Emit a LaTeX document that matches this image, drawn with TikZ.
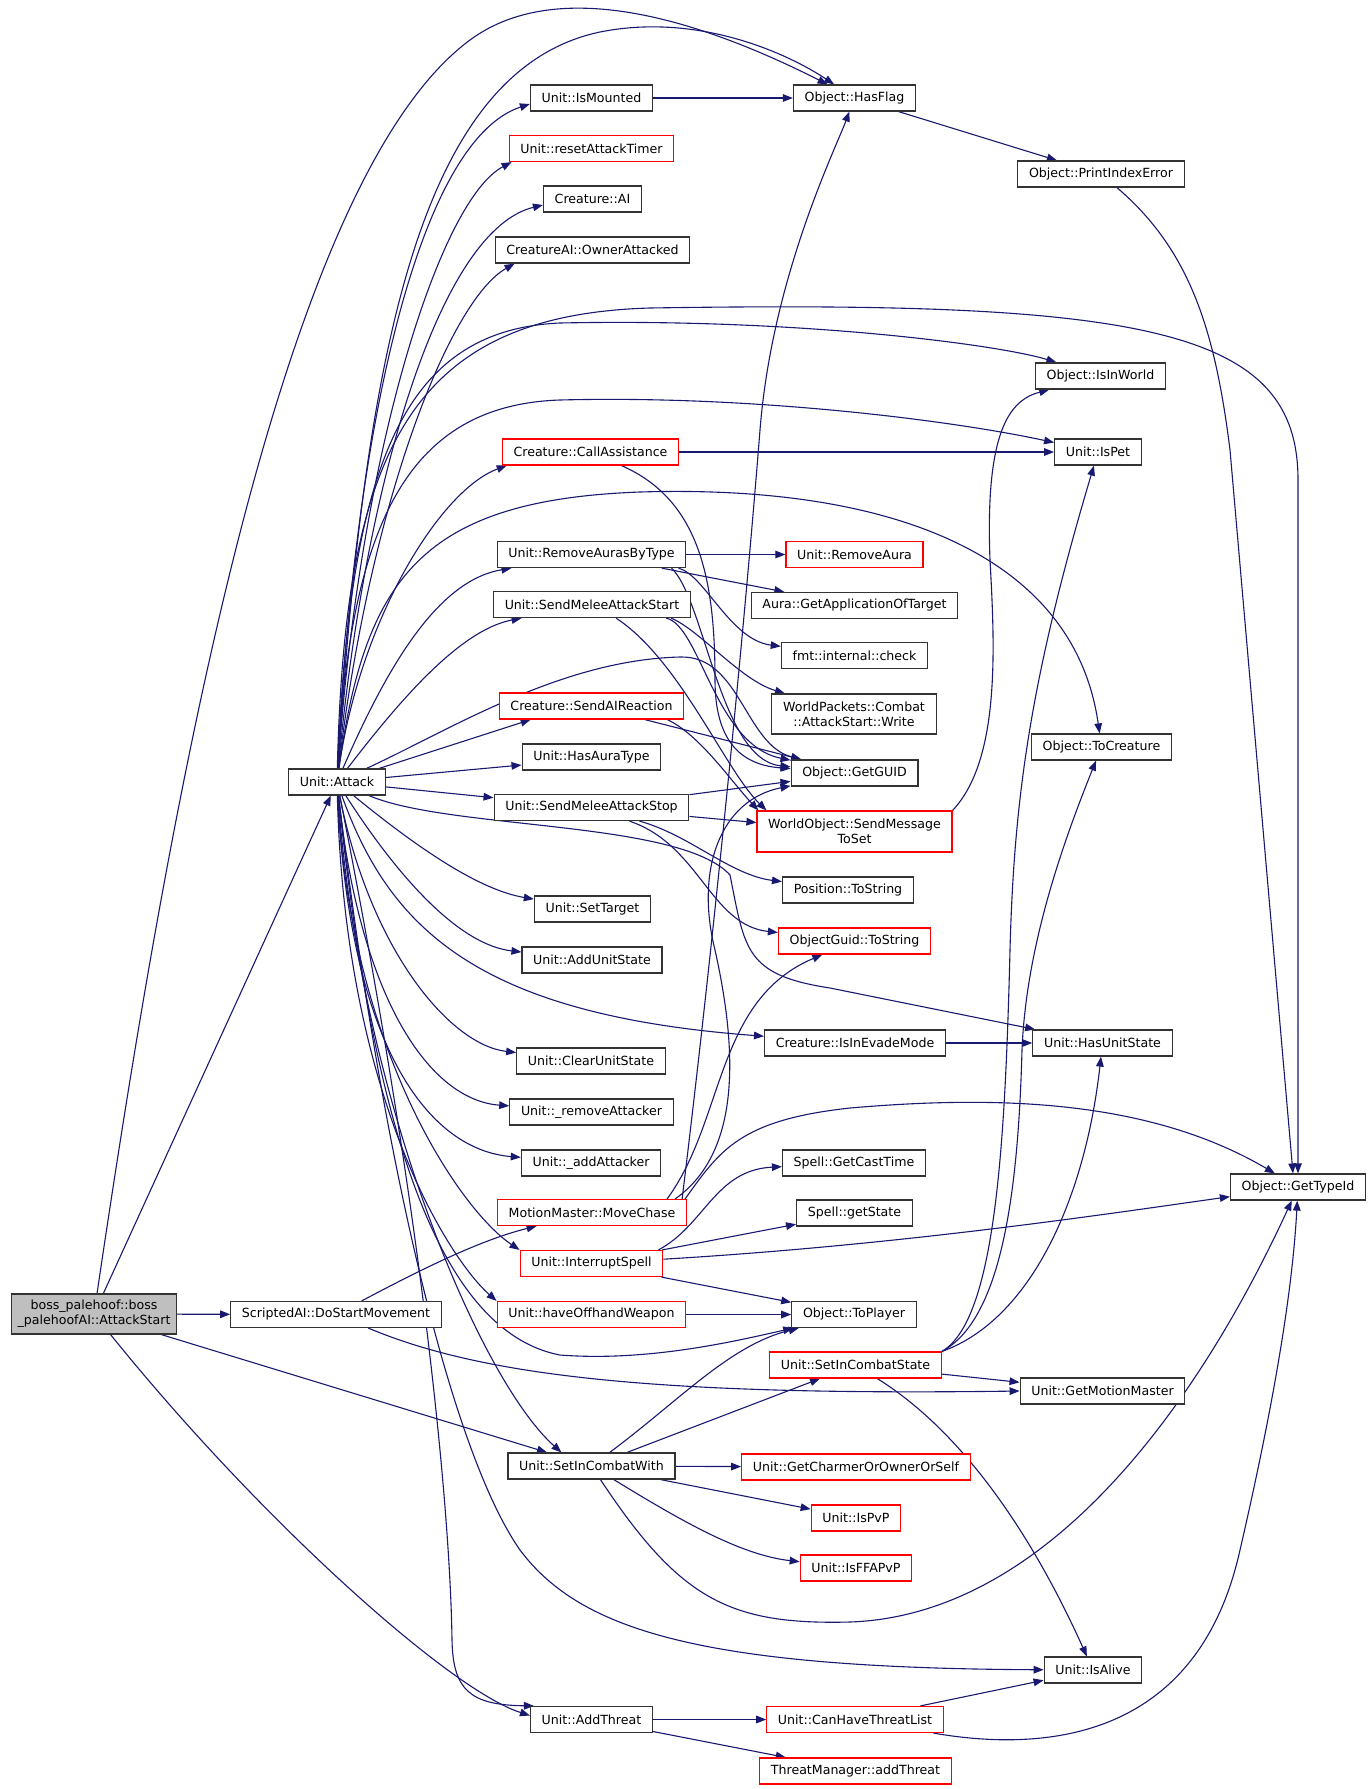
\documentclass[tikz,border=0pt]{standalone}
\usepackage{fontspec}
\setmainfont{DejaVu Sans}
\usetikzlibrary{arrows.meta,calc,backgrounds}
\definecolor{edgeblue}{HTML}{191970}
\definecolor{bossgray}{HTML}{BFBFBF}

\begin{document}
\begin{tikzpicture}[x=0.5pt,y=-0.5pt,
    fn/.style={draw=black!80,line width=0.6pt,fill=white,inner xsep=5.6pt,inner ysep=0pt,
      minimum height=13pt,font=\fontsize{6.3}{7.5}\selectfont,align=center},
    fnred/.style={fn,draw=red},
    call/.style={draw=edgeblue,line width=0.55pt,-{Triangle[length=5pt,width=3.8pt]}}]
    \useasboundingbox (0,0) rectangle (1371,1789);

    \node[fn,fill=bossgray,minimum height=20pt,inner xsep=3pt] (boss) at (94,1314) {boss\_palehoof::boss\\\_palehoofAI::AttackStart};
    \node[fn] (DoStartMovement) at (336,1314.5) {ScriptedAI::DoStartMovement};
    \node[fn] (Attack) at (337,782) {Unit::Attack};

    \node[fn] (IsMounted) at (591.5,98) {Unit::IsMounted};
    \node[fnred] (resetAttackTimer) at (591.5,148.5) {Unit::resetAttackTimer};
    \node[fn] (CreatureAI) at (592.5,199) {Creature::AI};
    \node[fn] (OwnerAttacked) at (592.5,250) {CreatureAI::OwnerAttacked};
    \node[fnred] (CallAssistance) at (590.5,452) {Creature::CallAssistance};
    \node[fn] (RemoveAurasByType) at (591.5,554.5) {Unit::RemoveAurasByType};
    \node[fn] (SendMeleeAttackStart) at (592,604.5) {Unit::SendMeleeAttackStart};
    \node[fnred] (SendAIReaction) at (591.5,706) {Creature::SendAIReaction};
    \node[fn] (HasAuraType) at (591.5,757) {Unit::HasAuraType};
    \node[fn] (SendMeleeAttackStop) at (591.5,807.5) {Unit::SendMeleeAttackStop};
    \node[fn] (SetTarget) at (592.5,909) {Unit::SetTarget};
    \node[fn] (AddUnitState) at (592,960) {Unit::AddUnitState};
    \node[fn] (ClearUnitState) at (591,1061) {Unit::ClearUnitState};
    \node[fn] (removeAttacker) at (591.5,1112) {Unit::\_removeAttacker};
    \node[fn] (addAttacker) at (591,1163) {Unit::\_addAttacker};
    \node[fnred] (MoveChase) at (592,1212.5) {MotionMaster::MoveChase};
    \node[fnred] (InterruptSpell) at (591.5,1263.5) {Unit::InterruptSpell};
    \node[fnred] (haveOffhandWeapon) at (591.5,1314.5) {Unit::haveOffhandWeapon};
    \node[fn] (SetInCombatWith) at (591.5,1466) {Unit::SetInCombatWith};
    \node[fn] (AddThreat) at (591.5,1719.5) {Unit::AddThreat};

    \node[fn] (HasFlag) at (854.5,98) {Object::HasFlag};
    \node[fnred] (RemoveAura) at (854.5,554.5) {Unit::RemoveAura};
    \node[fn] (GetApplicationOfTarget) at (854.5,605.5) {Aura::GetApplicationOfTarget};
    \node[fn] (fmtcheck) at (854.5,655.5) {fmt::internal::check};
    \node[fn,minimum height=20pt] (AttackStartWrite) at (854,714) {WorldPackets::Combat\\::AttackStart::Write};
    \node[fn] (GetGUID) at (854.5,773) {Object::GetGUID};
    \node[fnred,minimum height=20.5pt] (SendMessageToSet) at (854.5,831.5) {WorldObject::SendMessage\\ToSet};
    \node[fn] (PositionToString) at (848,890) {Position::ToString};
    \node[fnred] (ObjectGuidToString) at (854.5,941) {ObjectGuid::ToString};
    \node[fn] (IsInEvadeMode) at (855,1043) {Creature::IsInEvadeMode};
    \node[fn] (GetCastTime) at (854,1163) {Spell::GetCastTime};
    \node[fn] (getState) at (854.5,1213) {Spell::getState};
    \node[fn] (ToPlayer) at (854,1314.5) {Object::ToPlayer};
    \node[fnred] (SetInCombatState) at (855.5,1365) {Unit::SetInCombatState};
    \node[fnred] (GetCharmer) at (856,1467) {Unit::GetCharmerOrOwnerOrSelf};
    \node[fnred] (IsPvP) at (856,1518) {Unit::IsPvP};
    \node[fnred] (IsFFAPvP) at (856,1568) {Unit::IsFFAPvP};
    \node[fnred] (CanHaveThreatList) at (855,1719.5) {Unit::CanHaveThreatList};
    \node[fnred] (TMaddThreat) at (855.5,1771) {ThreatManager::addThreat};

    \node[fn] (PrintIndexError) at (1101,174) {Object::PrintIndexError};
    \node[fn] (IsInWorld) at (1100.5,376) {Object::IsInWorld};
    \node[fn] (IsPet) at (1098,452) {Unit::IsPet};
    \node[fn] (ToCreature) at (1101.5,747) {Object::ToCreature};
    \node[fn] (HasUnitState) at (1102.5,1043) {Unit::HasUnitState};
    \node[fn] (GetMotionMaster) at (1102.5,1391) {Unit::GetMotionMaster};
    \node[fn] (IsAlive) at (1093,1670) {Unit::IsAlive};
    \node[fn] (GetTypeId) at (1298,1187) {Object::GetTypeId};

    \begin{scope}[on background layer]
    \fill[white] (0,0) rectangle (1371,1789);

    \draw[call] (boss) .. controls (170,800) and (280,180) .. (470,40) .. controls (565,-30) and (720,30) .. (HasFlag);
    \draw[call] (boss) -- (Attack);
    \draw[call] (boss) -- (DoStartMovement);
    \draw[call] (boss) -- (SetInCombatWith);
    \draw[call] (boss) .. controls (260,1520) and (450,1690) .. ($(AddThreat.west)+(0,-4)$);

    % Unit::Attack, upper half
    \draw[call] (Attack) .. controls (365,350) and (420,70) .. (600,32) .. controls (700,12) and (790,55) .. (HasFlag);
    \draw[call] (Attack) .. controls (355,420) and (420,140) .. ($(IsMounted.west)+(0,6)$);
    \draw[call] (Attack) .. controls (360,450) and (440,200) .. ($(resetAttackTimer.south west)+(3,0)$);
    \draw[call] (Attack) .. controls (365,480) and (440,230) .. ($(CreatureAI.west)+(0,6)$);
    \draw[call] (Attack) .. controls (370,500) and (450,300) .. ($(OwnerAttacked.south west)+(20,0)$);
    \draw[call] (Attack) .. controls (345,450) and (410,315) .. (650,308) .. controls (1150,300) and (1298,330) .. (1298,480) -- (GetTypeId);
    \draw[call] (Attack) .. controls (350,470) and (400,330) .. (560,323) .. controls (800,318) and (1000,345) .. (IsInWorld);
    \draw[call] (Attack) .. controls (350,520) and (410,405) .. (560,400) .. controls (750,395) and (950,420) .. (IsPet);
    \draw[call] (Attack) .. controls (360,620) and (440,490) .. ($(CallAssistance.south west)+(5,0)$);
    \draw[call] (Attack) .. controls (365,580) and (420,500) .. (640,492) .. controls (900,484) and (1075,560) .. (ToCreature);
    \draw[call] (Attack) .. controls (390,660) and (440,580) .. ($(RemoveAurasByType.south west)+(15,0)$);
    \draw[call] (Attack) .. controls (400,700) and (460,630) .. (SendMeleeAttackStart);
    \draw[call] (Attack) .. controls (450,730) and (560,660) .. (680,657) .. controls (740,655) and (745,745) .. (GetGUID);
    \draw[call] (Attack) -- ($(SendAIReaction.south west)+(32,0)$);
    \draw[call] (Attack) -- ($(HasAuraType.west)+(0,8)$);
    \draw[call] (Attack) -- (SendMeleeAttackStop);

    % Unit::Attack, lower half
    \draw[call] (Attack) .. controls (450,830) and (680,820) .. (730,875) .. controls (745,950) and (745,975) .. (830,988) -- (HasUnitState);
    \draw[call] (Attack) .. controls (420,850) and (480,890) .. (SetTarget);
    \draw[call] (Attack) .. controls (400,880) and (460,945) .. (AddUnitState);
    \draw[call] (Attack) .. controls (390,930) and (480,1015) .. (IsInEvadeMode);
    \draw[call] (Attack) .. controls (370,950) and (450,1045) .. (ClearUnitState);
    \draw[call] (Attack) .. controls (360,1000) and (430,1100) .. (removeAttacker);
    \draw[call] (Attack) .. controls (350,1050) and (430,1150) .. (addAttacker);
    \draw[call] (Attack) .. controls (350,1050) and (460,1210) .. (InterruptSpell.north west);
    \draw[call] (Attack) .. controls (345,1100) and (450,1260) .. (haveOffhandWeapon.north west);
    \draw[call] (Attack) .. controls (370,1100) and (430,1330) .. (560,1355) .. controls (650,1362) and (740,1340) .. (ToPlayer);
    \draw[call] (Attack) .. controls (360,1100) and (480,1380) .. ($(SetInCombatWith.north west)+(54,0)$);
    \draw[call] (Attack) .. controls (420,1200) and (450,1500) .. (452,1640) .. controls (453,1690) and (470,1705) .. ($(AddThreat.north west)+(4,0)$);
    \draw[call] (Attack) .. controls (380,1150) and (450,1450) .. (520,1550) .. controls (580,1630) and (700,1668) .. (IsAlive);

    \draw[call] (DoStartMovement) .. controls (420,1270) and (480,1240) .. (MoveChase);
    \draw[call] (DoStartMovement) .. controls (480,1375) and (650,1396) .. (GetMotionMaster.west);

    \draw[call] (IsMounted) -- (HasFlag);
    \draw[call] (HasFlag) -- (PrintIndexError);
    \draw[call] (PrintIndexError) .. controls (1190,250) and (1215,330) .. (1230,450) -- ($(GetTypeId.north)+(-5,0)$);

    \draw[call] (CallAssistance) -- (IsPet);
    \draw[call] (CallAssistance) .. controls (700,500) and (715,580) .. (715,680) .. controls (715,740) and (740,765) .. (GetGUID);

    \draw[call] (RemoveAurasByType) -- (RemoveAura);
    \draw[call] (RemoveAurasByType) -- (GetApplicationOfTarget);
    \draw[call] ($(RemoveAurasByType.south east)+(-8,0)$) .. controls (705,575) and (730,640) .. (fmtcheck);
    \draw[call] ($(RemoveAurasByType.south east)+(-15,0)$) .. controls (705,600) and (720,760) .. (GetGUID);

    \draw[call] ($(SendMeleeAttackStart.south east)+(-20,0)$) .. controls (700,630) and (740,680) .. (AttackStartWrite);
    \draw[call] ($(SendMeleeAttackStart.south east)+(-25,0)$) .. controls (700,625) and (715,745) .. (GetGUID);
    \draw[call] ($(SendMeleeAttackStart.south east)+(-75,0)$) .. controls (680,660) and (725,770) .. ($(SendMessageToSet.north west)+(10,0)$);

    \draw[call] (SendAIReaction) -- (GetGUID);
    \draw[call] ($(SendAIReaction.south east)+(-17,0)$) .. controls (700,735) and (730,780) .. ($(SendMessageToSet.north west)+(2,0)$);

    \draw[call] (SendMeleeAttackStop) -- (GetGUID);
    \draw[call] (SendMeleeAttackStop) -- (SendMessageToSet);
    \draw[call] ($(SendMeleeAttackStop.south east)+(-50,0)$) .. controls (690,835) and (730,875) .. (PositionToString);
    \draw[call] ($(SendMeleeAttackStop.south east)+(-60,0)$) .. controls (700,845) and (710,925) .. (ObjectGuidToString);

    \draw[call] (SendMessageToSet.north east) .. controls (1000,760) and (995,650) .. (990,560) .. controls (985,430) and (1010,400) .. (IsInWorld);
    \draw[call] (IsInEvadeMode) -- (HasUnitState);

    \draw[call] ($(MoveChase.north east)+(-5,0)$) .. controls (715,930) and (745,620) .. (760,430) .. controls (772,278) and (835,150) .. (HasFlag);
    \draw[call] ($(MoveChase.north east)+(-12,0)$) .. controls (745,1150) and (735,1040) .. (715,950) .. controls (695,870) and (720,800) .. (GetGUID);
    \draw[call] ($(MoveChase.north east)+(-20,0)$) .. controls (725,1120) and (715,1000) .. (ObjectGuidToString);
    \draw[call] ($(MoveChase.north east)+(-2,0)$) .. controls (720,1150) and (740,1120) .. (850,1108) .. controls (1000,1095) and (1150,1100) .. (GetTypeId);

    \draw[call] ($(InterruptSpell.north east)+(-5,0)$) .. controls (705,1225) and (715,1170) .. (GetCastTime);
    \draw[call] (InterruptSpell) -- (getState);
    \draw[call] (InterruptSpell) .. controls (900,1245) and (1100,1215) .. (GetTypeId);
    \draw[call] (InterruptSpell) -- (ToPlayer);
    \draw[call] (haveOffhandWeapon) -- (ToPlayer);

    \draw[call] (SetInCombatWith) .. controls (680,1400) and (730,1345) .. (ToPlayer);
    \draw[call] (SetInCombatWith) -- (SetInCombatState);
    \draw[call] (SetInCombatWith) -- (GetCharmer);
    \draw[call] (SetInCombatWith) -- (IsPvP);
    \draw[call] (SetInCombatWith) .. controls (680,1520) and (740,1555) .. (IsFFAPvP);
    \draw[call] (SetInCombatWith) .. controls (680,1600) and (730,1625) .. (850,1622) .. controls (1050,1615) and (1200,1400) .. (GetTypeId);

    \draw[call] (SetInCombatState.north east) .. controls (995,1320) and (1005,1150) .. (1010,950) .. controls (1014,800) and (1030,680) .. (IsPet);
    \draw[call] (SetInCombatState.north east) .. controls (1000,1320) and (1018,1200) .. (1022,1050) .. controls (1026,950) and (1060,850) .. (ToCreature);
    \draw[call] (SetInCombatState.north east) .. controls (1030,1320) and (1085,1200) .. (HasUnitState);
    \draw[call] (SetInCombatState) -- (GetMotionMaster);
    \draw[call] (SetInCombatState) .. controls (960,1430) and (1030,1530) .. (IsAlive);

    \draw[call] (AddThreat) -- (CanHaveThreatList);
    \draw[call] (AddThreat) -- (TMaddThreat);
    \draw[call] (CanHaveThreatList) -- (IsAlive);
    \draw[call] (CanHaveThreatList) .. controls (1060,1755) and (1200,1730) .. (1240,1550) .. controls (1270,1420) and (1292,1300) .. (GetTypeId);
    \end{scope}
\end{tikzpicture}
\end{document}
